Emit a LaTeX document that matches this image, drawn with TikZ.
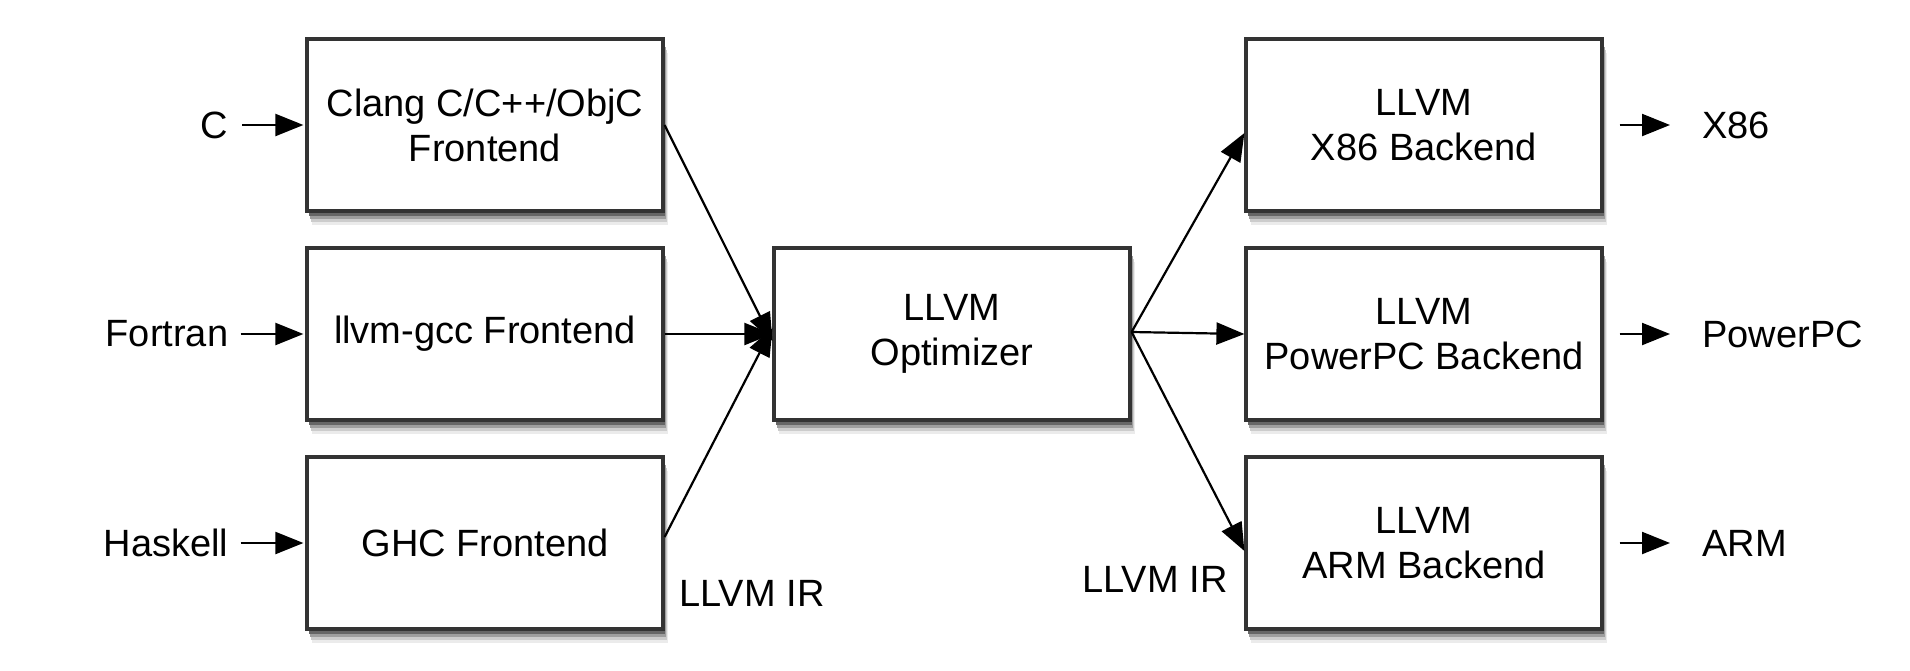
\documentclass[tikz,border=0pt]{standalone}
\usepackage{fontspec}
\setmainfont{Liberation Sans}
\usetikzlibrary{arrows.meta,shadows}
\begin{document}
\begin{tikzpicture}[x=0.5pt,y=-0.5pt,
  box/.style={draw=black!80,line width=1.6pt,fill=white,minimum width=178pt,minimum height=86pt,
    align=center,inner sep=0pt,font=\fontsize{19}{22.5}\selectfont,
    general shadow={shadow xshift=2.5pt,shadow yshift=-7pt,fill=black!8,opacity=1},
    general shadow={shadow xshift=2pt,shadow yshift=-5.5pt,fill=black!20,opacity=1},
    general shadow={shadow xshift=1.5pt,shadow yshift=-4pt,fill=black!38,opacity=1},
    general shadow={shadow xshift=1pt,shadow yshift=-2.5pt,fill=black!60,opacity=1}},
  lbl/.style={font=\fontsize{19}{22.5}\selectfont,inner sep=0pt},
  arr/.style={line width=1.1pt,-{Triangle[length=14pt,width=11pt]}}]
\useasboundingbox (0,0) rectangle (1910,670);
% boxes
\node[box] (clang) at (485,125) {Clang C/C++/ObjC\\Frontend};
\node[box] (gcc) at (485,334) {llvm-gcc Frontend};
\node[box] (ghc) at (485,543) {GHC Frontend};
\node[box] (opt) at (952,334) {LLVM\\Optimizer};
\node[box] (x86) at (1424,125) {LLVM\\X86 Backend};
\node[box] (ppc) at (1424,334) {LLVM\\PowerPC Backend};
\node[box] (arm) at (1424,543) {LLVM\\ARM Backend};
% input labels
\node[lbl] (c) at (214,125) {C};
\node[lbl] (fortran) at (167,334) {Fortran};
\node[lbl] (haskell) at (166,543) {Haskell};
% output labels
\node[lbl,anchor=west] (ox86) at (1702,125) {X86};
\node[lbl,anchor=west] (oppc) at (1702,334) {PowerPC};
\node[lbl,anchor=west] (oarm) at (1702,543) {ARM};
% IR labels
\node[lbl] (irl) at (752,593) {LLVM IR};
\node[lbl] (irr) at (1155,579) {LLVM IR};
% input arrows
\draw[arr] (c.east) ++(14,0) coordinate (cs) -- ([xshift=-1pt]clang.west);
\draw[arr] (fortran.east) ++(12,0) coordinate (fs) -- ([xshift=-1pt]gcc.west);
\draw[arr] (haskell.east) ++(12,0) coordinate (hs) -- ([xshift=-1pt]ghc.west);
% converge
\draw[arr] (clang.east) -- ([yshift=-3.5pt]opt.west);
\draw[arr] (gcc.east) -- (opt.west);
\draw[arr] ([yshift=3pt]ghc.east) -- ([yshift=3pt]opt.west);
% diverge
\draw[arr] ([yshift=1pt]opt.east) -- ([yshift=-4pt]x86.west);
\draw[arr] ([yshift=1pt]opt.east) -- (ppc.west);
\draw[arr] ([yshift=1pt]opt.east) -- ([yshift=-4pt]arm.west);
% output arrows
\draw[arr] ([xshift=8pt]x86.east) coordinate (xs) -- ([xshift=-16pt]ox86.west);
\draw[arr] ([xshift=8pt]ppc.east) coordinate (ps) -- ([xshift=-16pt]oppc.west);
\draw[arr] ([xshift=8pt]arm.east) coordinate (as) -- ([xshift=-16pt]oarm.west);
\end{tikzpicture}
\end{document}
